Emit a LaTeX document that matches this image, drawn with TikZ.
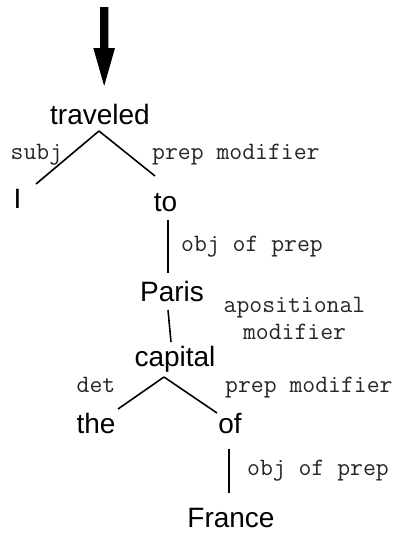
\documentclass[tikz,border=0pt]{standalone}
\usepackage{fontspec}
\setmainfont{Liberation Sans}
\begin{document}
\begin{tikzpicture}[x=1pt,y=-1pt,
  word/.style={font=\fontsize{28}{32}\selectfont, inner sep=0pt, anchor=base},
  lab/.style={font=\ttfamily\fontsize{25}{26.5}\selectfont, inner sep=0pt, anchor=base west, text=black!85},
  edge/.style={line width=1.6pt}]
\useasboundingbox (0,0) rectangle (392,533);
% big arrow
\fill (100,7) -- (108.3,7) -- (108.3,48) -- (115,48) -- (104.15,86) -- (93.3,48) -- (100,48) -- cycle;
% words
\node[word] (traveled) at (100,124) {traveled};
\node[word] (I) at (17.5,208) {I};
\node[word] (to) at (165.5,211) {to};
\node[word] (Paris) at (172,301) {Paris};
\node[word] (capital) at (175,366) {capital};
\node[word] (the) at (96,433) {the};
\node[word] (of) at (230,433) {of};
\node[word] (France) at (231,527) {France};
% edges
\draw[edge] ([shift={(-1,7)}]traveled.base) -- ([shift={(18.5,-24)}]I.base);
\draw[edge] ([shift={(-1,7)}]traveled.base) -- ([shift={(-10.5,-35)}]to.base);
\draw[edge] ([shift={(2.5,9)}]to.base) -- ([shift={(-4,-28)}]Paris.base);
\draw[edge] ([shift={(-4,9)}]Paris.base) -- ([shift={(-4,-24)}]capital.base);
\draw[edge] ([shift={(-11,11)}]capital.base) -- ([shift={(22,-24)}]the.base);
\draw[edge] ([shift={(-11,11)}]capital.base) -- ([shift={(-13,-20)}]of.base);
\draw[edge] ([shift={(-1,16)}]of.base) -- ([shift={(-2,-34)}]France.base);
% labels
\node[lab] (l1) at (10.5,159) {subj};
\node[lab] (l2) at (152,159) {prep modifier};
\node[lab] (l3) at (181,251) {obj of prep};
\node[lab, anchor=base, align=center] (l4) at (294.5,339) {apositional\\modifier};
\node[lab] (l5) at (76.5,392) {det};
\node[lab] (l6) at (225,392) {prep modifier};
\node[lab] (l7) at (247,475) {obj of prep};
\end{tikzpicture}
\end{document}
